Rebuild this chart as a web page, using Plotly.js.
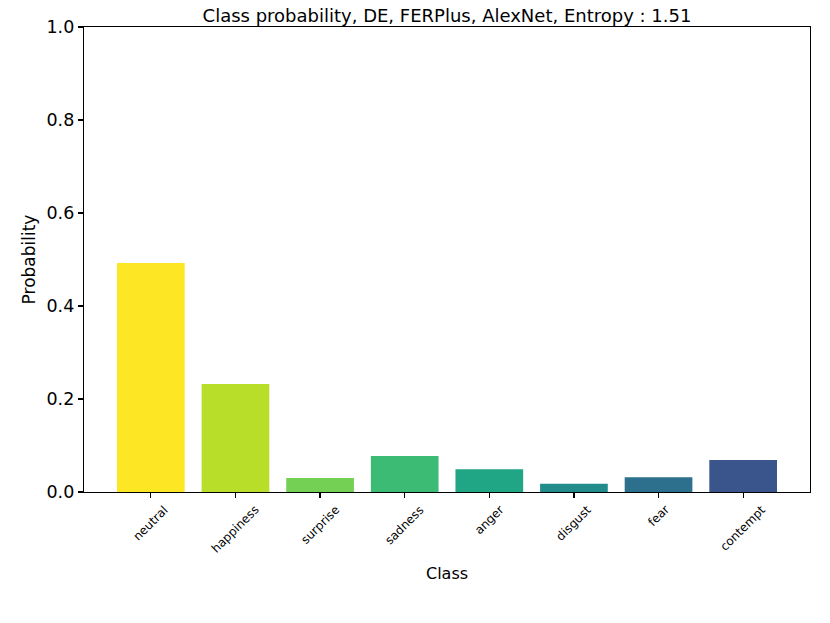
<!DOCTYPE html>
<html>
<head>
<meta charset="utf-8">
<script src="https://cdn.plot.ly/plotly-3.0.1.min.js"></script>
<style>html,body{margin:0;padding:0;background:#fff}#chart{width:830px;height:623px}</style>
</head>
<body>
<div id="chart"></div>
<script>
const categories = ["neutral", "happiness", "surprise", "sadness", "anger", "disgust", "fear", "contempt"];
const probabilities = [0.4925, 0.2323, 0.0301, 0.0774, 0.0488, 0.0179, 0.0316, 0.0688];
const barColors = ["#fde725", "#b8de29", "#74d055", "#3cbb75", "#21a685", "#228c8d", "#2d708e", "#3a548c"];
const yTickValues = [0, 0.2, 0.4, 0.6, 0.8, 1.0];
const yTickLabels = ["0.0", "0.2", "0.4", "0.6", "0.8", "1.0"];

const font = "DejaVu Sans, sans-serif";

const trace = {
  type: "bar",
  x: categories,
  y: probabilities,
  width: 0.8,
  marker: {color: barColors, line: {width: 0}},
  hoverinfo: "x+y"
};

const annotations = categories.map(c => ({
  x: c, xref: "x",
  y: 0, yref: "paper",
  yshift: -8,
  text: c,
  showarrow: false,
  textangle: -45,
  xanchor: "center",
  yanchor: "top",
  font: {family: font, size: 12, color: "#000"}
}));

const layout = {
  width: 830, height: 623,
  margin: {l: 84, r: 20, t: 27, b: 131},
  paper_bgcolor: "#fff", plot_bgcolor: "#fff",
  showlegend: false,
  title: {text: "Class probability, DE, FERPlus, AlexNet, Entropy : 1.51",
    font: {family: font, size: 18, color: "#000"}, x: 0.5, xref: "paper", xanchor: "center", y: 1, yref: "paper", yanchor: "bottom", pad: {b: 5}},
  xaxis: {
    type: "category", range: [-0.79, 7.79],
    showline: true, mirror: true, linecolor: "#000", linewidth: 1.2,
    ticks: "outside", ticklen: 5, tickwidth: 1.2, tickcolor: "#000",
    showticklabels: false, showgrid: false, zeroline: false,
    title: {text: "Class", font: {family: font, size: 16, color: "#000"}, standoff: 70}
  },
  yaxis: {
    range: [0, 1], tickvals: yTickValues, ticktext: yTickLabels,
    showline: true, mirror: true, linecolor: "#000", linewidth: 1.2,
    ticks: "outside", ticklen: 5, tickwidth: 1.2, tickcolor: "#000",
    tickfont: {family: font, size: 17.5, color: "#000"},
    showgrid: false, zeroline: false,
    title: {text: "Probability", font: {family: font, size: 17, color: "#000"}, standoff: 6}
  },
  annotations: annotations
};

Plotly.newPlot("chart", [trace], layout, {displayModeBar: false, staticPlot: true});
</script>
</body>
</html>
